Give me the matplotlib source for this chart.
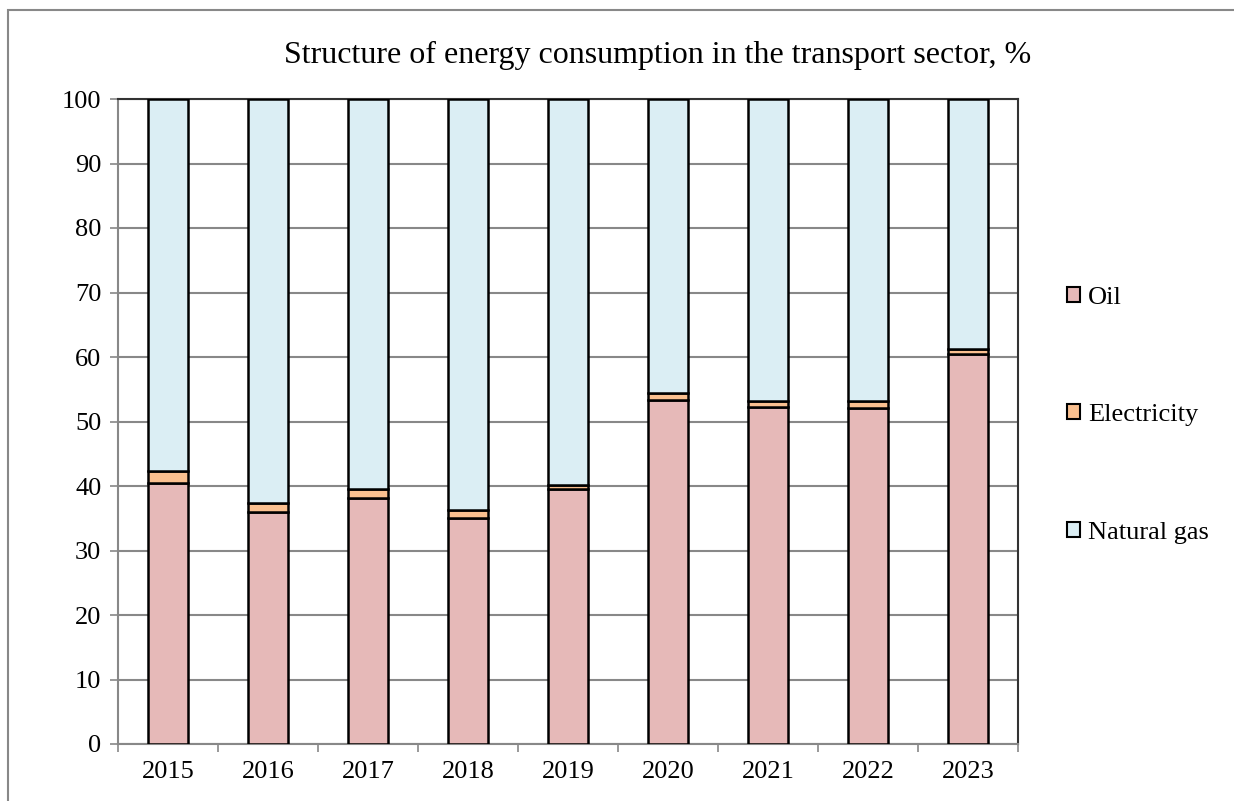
import matplotlib
matplotlib.use("Agg")
import matplotlib.pyplot as plt
import numpy as np
from matplotlib.patches import Rectangle

years = ["2015", "2016", "2017", "2018", "2019", "2020", "2021", "2022", "2023"]
oil = [40.5, 36.0, 38.2, 35.0, 39.5, 53.3, 52.2, 52.1, 60.4]
electricity = [1.8, 1.3, 1.4, 1.3, 0.6, 1.1, 1.0, 1.1, 0.9]
natural_gas = [100 - o - e for o, e in zip(oil, electricity)]

plt.rcParams["font.family"] = ["Liberation Serif", "DejaVu Serif"]

fig = plt.figure(figsize=(12.34, 8.01), dpi=100)
ax = fig.add_axes([118 / 1234, 1 - 744 / 801, 900 / 1234, 645 / 801])

# outer chart frame
fig.patches.append(Rectangle((8 / 1234, -0.05), 1.1, 1 - 10 / 801 + 0.05,
                             transform=fig.transFigure, fill=False,
                             edgecolor="#888888", lw=1.5))

x = np.arange(len(years))
w = 0.4
ec = "black"
ax.bar(x, oil, w, color="#E6B9B8", edgecolor=ec, lw=1.8, label="Oil", zorder=3)
ax.bar(x, electricity, w, bottom=oil, color="#FAC090", edgecolor=ec, lw=1.8,
       label="Electricity", zorder=3)
bottom2 = [o + e for o, e in zip(oil, electricity)]
ax.bar(x, natural_gas, w, bottom=bottom2, color="#DBEEF4", edgecolor=ec, lw=1.8,
       label="Natural gas", zorder=3)

ax.set_xlim(-0.5, len(years) - 0.5)
ax.set_ylim(0, 100)
ax.set_yticks(np.arange(0, 101, 10))
ax.set_xticks(x)
ax.set_xticklabels(years)
ax.set_xticks(np.arange(-0.5, len(years), 1), minor=True)
ax.tick_params(axis="x", which="major", length=0, pad=12, labelsize=19)
ax.tick_params(axis="x", which="minor", length=6, color="#888888", width=1.2)
ax.tick_params(axis="y", length=6, color="#888888", width=1.2, labelsize=19, pad=6)
ax.grid(axis="y", color="#888888", lw=1.5, zorder=0)

for s in ["top", "right"]:
    ax.spines[s].set_color("#333333")
    ax.spines[s].set_linewidth(1.5)
for s in ["left", "bottom"]:
    ax.spines[s].set_color("#888888")
    ax.spines[s].set_linewidth(1.5)

fig.text(658 / 1234, 1 - 55 / 801, "Structure of energy consumption in the transport sector, %",
         ha="center", va="center", fontsize=23)

leg = ax.legend(loc="center left", bbox_to_anchor=(1.028, 0.51), frameon=False,
                fontsize=19, handlelength=0.5, handleheight=0.5, handletextpad=0.3,
                labelspacing=3.62)
for h in leg.legend_handles:
    h.set_linewidth(1.5)

fig.savefig("out.png", dpi=100)
